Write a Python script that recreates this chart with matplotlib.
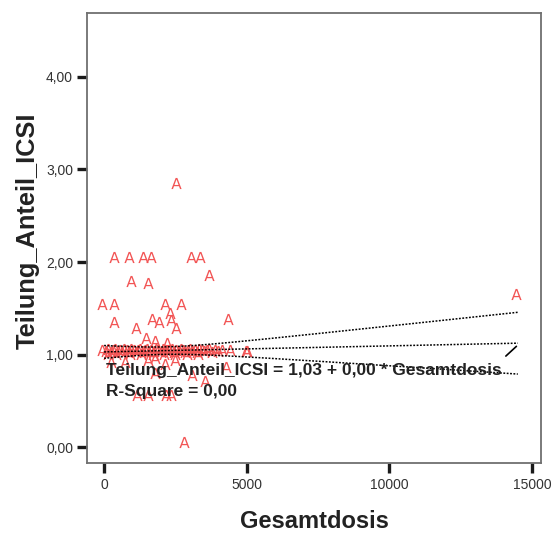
import matplotlib
matplotlib.use("Agg")
import matplotlib.pyplot as plt
import numpy as np

plt.rcParams['font.family'] = ['Liberation Sans', 'DejaVu Sans']

# scattered points (Gesamtdosis, Teilung_Anteil_ICSI)
x_scatter = [14450, 2520, 350, 880, 1370, 1650, 3050, 3360, 3670, 960, 1540,
             -80, 340, 2150, 2690, 2300, 2360, 2520, 340, 1130, 1690, 1930, 4350,
             1480, 1770, 2210, 4960, 250, 720, 1540, 1770, 2120, 2470, 4280,
             1780, 3090, 3550, 1170, 1540, 2180, 2360, 2800, 5010]
y_scatter = [1.65, 2.85, 2.06, 2.06, 2.06, 2.06, 2.06, 2.06, 1.86, 1.80, 1.77,
             1.55, 1.55, 1.55, 1.55, 1.45, 1.37, 1.29, 1.35, 1.29, 1.38, 1.35, 1.38,
             1.18, 1.15, 1.13, 1.04, 0.92, 0.92, 0.94, 0.96, 0.90, 0.94, 0.87,
             0.80, 0.78, 0.72, 0.56, 0.56, 0.56, 0.56, 0.06, 1.04]

# dense band of points near 1,0
x_band = [-60, 60, 150, 230, 310, 390, 470, 560, 640, 710, 790, 870, 960, 1040,
          1120, 1190, 1270, 1360, 1430, 1510, 1590, 1660, 1740, 1820, 1900,
          1980, 2050, 2130, 2210, 2290, 2370, 2440, 2530, 2610, 2690, 2770,
          2840, 2930, 3010, 3090, 3170, 3260, 3340, 3420, 3510, 3600, 3690,
          3780, 3870, 3990, 4120, 4400, 120, 420, 900, 1300, 1700, 2100, 2500,
          2900, 3300]
y_band = [1.05, 1.04, 1.06, 1.03, 1.05, 1.06, 1.04, 1.05, 1.03, 1.06, 1.05,
          1.04, 1.06, 1.05, 1.03, 1.05, 1.06, 1.04, 1.05, 1.06, 1.03, 1.05,
          1.04, 1.06, 1.05, 1.03, 1.06, 1.05, 1.04, 1.05, 1.06, 1.03, 1.05,
          1.04, 1.06, 1.05, 1.03, 1.05, 1.06, 1.04, 1.05, 1.03, 1.06, 1.05,
          1.04, 1.05, 1.06, 1.03, 1.05, 1.04, 1.05, 1.05, 1.01, 1.01, 1.01,
          1.01, 1.01, 1.01, 1.01, 1.01, 1.01]

# fit
intercept = 1.03
slope = 6.5e-6
ci_a = 0.04
ci_b = 2.67e-5
x_mean = 2100
fit_x_range = [0, 14500]

x_ticks = [0, 5000, 10000, 15000]
x_ticklabels = ['0', '5000', '10000', '15000']
y_ticks = [0, 1, 2, 3, 4]
y_ticklabels = ['0,00', '1,00', '2,00', '3,00', '4,00']

fig = plt.figure(figsize=(5.53, 5.33), dpi=100)
ax = fig.add_axes([0.1573, 0.1313, 0.8210, 0.8443])

red = '#f25555'
ax.scatter(x_scatter + x_band, y_scatter + y_band, marker=r'$\mathsf{A}$',
           s=64, color=red, linewidths=0, zorder=3)

xs = np.linspace(fit_x_range[0], fit_x_range[1], 200)
yfit = intercept + slope * xs
hw = np.sqrt(ci_a ** 2 + (ci_b * (xs - x_mean)) ** 2)
for yy in (yfit, yfit + hw, yfit - hw):
    ax.plot(xs, yy, color='black', lw=1.1, ls=(0, (1.2, 1.0)), zorder=4)

# label leader line
ax.annotate('', xy=(14450, 1.09), xytext=(14080, 0.985),
            arrowprops=dict(arrowstyle='-', color='black', lw=1.2,
                            shrinkA=0, shrinkB=0))

ax.text(60, 0.778, 'Teilung_Anteil_ICSI = 1,03 + 0,00 * Gesamtdosis',
        fontsize=12.5, fontweight='bold', color='#222222', va='baseline',
        ha='left', zorder=5)
ax.text(60, 0.555, 'R-Square = 0,00', fontsize=12.5, fontweight='bold',
        color='#222222', va='baseline', ha='left', zorder=5)

ax.set_xlim(-600, 15312)
ax.set_ylim(-0.17, 4.69)
ax.set_xticks(x_ticks)
ax.set_xticklabels(x_ticklabels)
ax.set_yticks(y_ticks)
ax.set_yticklabels(y_ticklabels)
ax.tick_params(axis='both', direction='out', length=7, width=2.4,
               color='#1a1a1a', labelsize=10, labelcolor='#333333', pad=4)
ax.tick_params(axis='y', pad=3)

for sp in ax.spines.values():
    sp.set_color('#707070')
    sp.set_linewidth(1.3)

ax.set_xlabel('Gesamtdosis', fontsize=17, fontweight='bold', color='#222222',
              labelpad=13)
ax.set_ylabel('Teilung_Anteil_ICSI', fontsize=18.3, fontweight='bold',
              color='#222222')
ax.yaxis.set_label_coords(-0.1035, 0.516)

fig.savefig('out.png', dpi=100)
